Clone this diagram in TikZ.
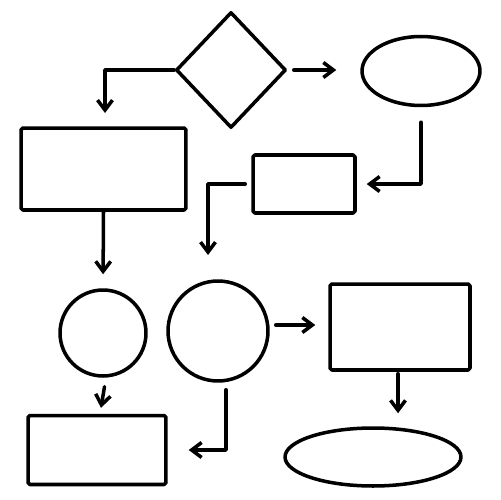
\documentclass[tikz,border=0pt]{standalone}
\usepackage{tikz}
\usetikzlibrary{shapes,positioning,calc,arrows.meta}

\begin{document}
\begin{tikzpicture}[
    x=0.02cm, y=-0.02cm,
    line width=2pt, line cap=round, line join=round,
    boxnode/.style={rectangle, draw, rounded corners=1pt, inner sep=0pt},
    decnode/.style={diamond, draw, inner sep=0pt, minimum width=2.2cm, minimum height=2.32cm},
    ovalnode/.style={ellipse, draw, inner sep=0pt},
    roundnode/.style={circle, draw, inner sep=0pt},
    arr/.style={-{Straight Barb[length=2mm, width=3mm]}}
]
    \useasboundingbox (0,0) rectangle (500,500);

    % shapes
    \node[decnode] (dec) at (231,70) {};
    \node[ovalnode, minimum width=2.36cm, minimum height=1.38cm] (oval) at (421,71) {};
    \node[boxnode, minimum width=3.3cm, minimum height=1.64cm] (box1) at (103.5,169) {};
    \node[boxnode, minimum width=2.04cm, minimum height=1.16cm] (box2) at (304,184) {};
    \node[roundnode, minimum size=1.72cm] (circA) at (103,333) {};
    \node[roundnode, minimum size=2.0cm] (circB) at (218,331) {};
    \node[boxnode, minimum width=2.8cm, minimum height=1.72cm] (box3) at (400,327) {};
    \node[boxnode, minimum width=2.76cm, minimum height=1.38cm] (box4) at (97,450) {};
    \node[ovalnode, minimum width=3.52cm, minimum height=1.16cm] (oval2) at (373,457) {};

    % loose ends
    \coordinate (endA) at (105,113);
    \coordinate (endB) at (208,255);

    % connectors
    \draw[arr] (dec.west) -| (endA);
    \draw[arr, shorten <=0.12cm, shorten >=0.48cm] (dec.east) -- (dec.east -| oval.west);
    \draw[arr, shorten >=0.2cm] ([yshift=-0.3cm]oval.south) |- (box2.east);
    \draw[arr, shorten <=0.12cm] (box2.west) -| (endB);
    \draw[arr, shorten >=0.28cm] (box1.south) -- (circA.north);
    \draw[arr, shorten <=0.18cm, shorten >=0.12cm] ([xshift=0.06cm]circA.south) -- ([xshift=0.06cm]box4.north);
    \draw[arr, shorten >=0.42cm] ([xshift=0.16cm, yshift=-0.14cm]circB.south) |- (box4.east);
    \draw[arr, shorten <=0.12cm, shorten >=0.26cm] ([yshift=0.12cm]circB.east) -- ([yshift=0.12cm]circB.east -| box3.west);
    \draw[arr, shorten >=0.26cm] ([xshift=-0.04cm, yshift=-0.04cm]box3.south) -- ([xshift=-0.04cm]box3.south |- oval2.north);
\end{tikzpicture}
\end{document}
